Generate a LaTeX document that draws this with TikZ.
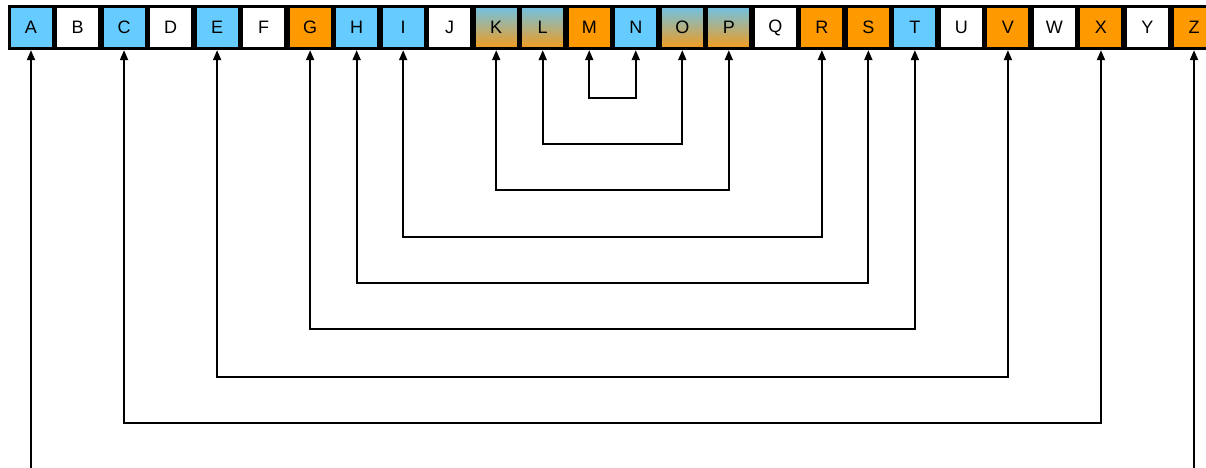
\documentclass[tikz,border=0pt]{standalone}
\usepackage{fontspec}
\setmainfont{Liberation Sans}
\usetikzlibrary{arrows.meta}
\definecolor{cblue}{HTML}{66CCFF}
\definecolor{corange}{HTML}{FF9900}
\definecolor{gtop}{HTML}{6EC3E6}
\definecolor{gbot}{HTML}{F59A1A}
\begin{document}
\begin{tikzpicture}[x=1pt,y=-1pt,
  cell/.style={draw=black,line width=2.8pt,minimum width=43.8pt,minimum height=42.5pt,
    inner sep=0pt,font=\fontsize{18}{20}\selectfont,text=black},
  wcell/.style={cell,fill=white},
  bcell/.style={cell,fill=cblue},
  ocell/.style={cell,fill=corange},
  gcell/.style={cell,top color=gtop,bottom color=gbot},
  link/.style={line width=1.9pt,{Triangle[length=10pt,width=8pt]}-{Triangle[length=10pt,width=8pt]}}]
\useasboundingbox (0,0) rectangle (1206,467);
\clip (0,0) rectangle (1206,467);
\foreach \L/\s [count=\i from 0] in {A/bcell,B/wcell,C/bcell,D/wcell,E/bcell,F/wcell,G/ocell,H/bcell,I/bcell,J/wcell,K/gcell,L/gcell,M/ocell,N/bcell,O/gcell,P/gcell,Q/wcell,R/ocell,S/ocell,T/bcell,U/wcell,V/ocell,W/wcell,X/ocell,Y/wcell,Z/ocell}
  \node[\s] (\L) at ({31+46.52*\i},27.5) {\L};
\foreach \p/\q/\y in {M/N/98,L/O/144,K/P/190,I/R/237,H/S/283,G/T/329,E/V/377,C/X/423,A/Z/471}{
  \coordinate (lv\p) at (0,\y);
  \draw[link] (\p.south) -- (\p.south |- lv\p) -| (\q.south);
}
\end{tikzpicture}
\end{document}
